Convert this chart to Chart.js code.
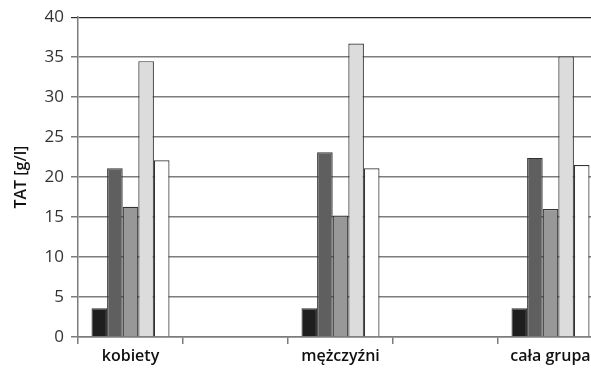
<!DOCTYPE html>
<html>
<head>
<meta charset="utf-8">
<script src="https://cdn.jsdelivr.net/npm/chart.js@4/dist/chart.umd.min.js"></script>
<style>
  html, body { margin: 0; padding: 0; overflow: hidden; background: #fff; }
  #wrap { width: 591px; height: 376px; overflow: hidden; }
</style>
</head>
<body>
<div id="wrap"><canvas id="c" width="603" height="376"></canvas></div>
<script>
// Groups on the x axis (empty slots separate the groups)
const categories = ['kobiety', '', 'mężczyźni', '', 'cała grupa'];

// TAT [g/l] per group, one array per series
const series1 = [3.6, null, 3.6, null, 3.6];
const series2 = [21.1, null, 23.1, null, 22.4];
const series3 = [16.3, null, 15.2, null, 16.0];
const series4 = [34.5, null, 36.7, null, 35.1];
const series5 = [22.1, null, 21.1, null, 21.5];

const yTicks = [0, 5, 10, 15, 20, 25, 30, 35, 40];

const fills = ['#1e1e1e', '#5f5f5f', '#989898', '#dcdcdc', '#ffffff'];
const allSeries = [series1, series2, series3, series4, series5];

const gridGray = '#7c7c7c';

new Chart(document.getElementById('c'), {
  type: 'bar',
  data: {
    labels: categories,
    datasets: allSeries.map((d, i) => ({
      data: d,
      backgroundColor: fills[i],
      borderColor: '#333',
      borderWidth: 1.2,
      borderSkipped: 'bottom',
      categoryPercentage: 0.743,
      barPercentage: 1.0
    }))
  },
  options: {
    responsive: false,
    animation: false,
    layout: { padding: { top: 4, left: 0, right: 0, bottom: 0 } },
    plugins: { legend: { display: false }, tooltip: { enabled: false } },
    scales: {
      x: {
        offset: true,
        grid: {
          offset: true,
          drawOnChartArea: false,
          drawTicks: true,
          tickLength: 7,
          color: gridGray,
          lineWidth: 1.5
        },
        border: { color: gridGray, width: 1.5 },
        ticks: {
          padding: 3,
          color: '#111',
          font: { family: 'Open Sans', size: 16, weight: '600' },
          maxRotation: 0,
          autoSkip: false
        },
        afterFit(scale) { scale.height = 39; }
      },
      y: {
        min: 0,
        max: 40,
        afterBuildTicks(scale) { scale.ticks = yTicks.map(v => ({ value: v })); },
        grid: {
          color: ctx => (ctx.tick && ctx.tick.value === 40 ? '#2a2a2a' : gridGray),
          lineWidth: ctx => (ctx.tick && ctx.tick.value === 40 ? 1.2 : 1.5),
          tickLength: 7
        },
        border: { color: gridGray, width: 1.5 },
        ticks: {
          padding: 7,
          color: '#333',
          font: { family: 'Open Sans', size: 17 }
        },
        title: {
          display: true,
          text: 'TAT [g/l]',
          color: '#111',
          padding: { top: 12, bottom: 0 },
          font: { family: 'Open Sans', size: 16, weight: '600' }
        },
        afterFit(scale) { scale.width = 78; }
      }
    }
  }
});
</script>
</body>
</html>
